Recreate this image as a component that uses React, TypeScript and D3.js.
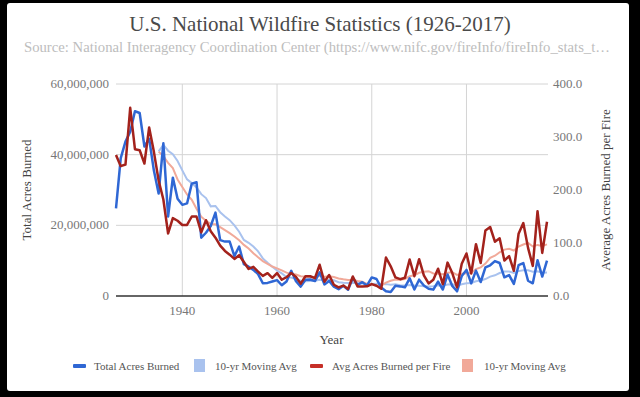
import React from 'react';
import * as d3 from 'd3';

// U.S. National Wildfire Statistics, one value per year starting 1926
const startYear = 1926;

// total acres burned, in millions
const totalAcres = [
  24.8, 39.0, 43.7, 46.5, 52.3, 51.8, 42.3, 44.5, 35.5, 29.0,
  43.2, 22.5, 33.5, 27.5, 25.8, 26.2, 31.8, 32.2, 16.5, 17.9,
  19.8, 23.6, 15.8, 15.4, 15.4, 11.3, 14.0, 9.0, 8.3, 7.4,
  6.2, 3.6, 3.7, 4.1, 4.48, 3.04, 4.08, 7.12, 4.20, 2.65,
  4.57, 4.66, 4.23, 6.69, 3.28, 4.28, 2.64, 1.92, 2.88, 1.79,
  5.11, 3.15, 3.91, 2.99, 5.26, 4.81, 2.38, 1.32, 1.15, 2.90,
  2.72, 2.45, 5.01, 1.83, 4.62, 2.95, 2.07, 1.80, 4.07, 1.84,
  6.07, 2.86, 1.33, 5.63, 7.39, 3.57, 7.18, 3.96, 8.10, 8.69,
  9.87, 9.33, 5.29, 5.92, 3.42, 8.71, 9.33, 4.32, 3.60, 10.13,
  5.51, 10.03,
];

// average acres burned per fire
const avgPerFire = [
  266, 245, 248, 355, 277, 275, 250, 318, 272, 218,
  182, 118, 147, 142, 134, 134, 150, 150, 120, 143,
  122, 110, 95, 85, 78, 70, 77, 64, 51, 55,
  46, 38, 43, 34, 43.3, 30.8, 35.4, 43.4, 36.1, 23.3,
  37.3, 37.3, 33.8, 59.0, 26.9, 39.5, 21.2, 16.2, 19.7, 13.3,
  36.8, 18.1, 17.9, 18.3, 22.4, 19.3, 13.6, 72.6, 56.0, 35.1,
  31.7, 34.3, 68.9, 37.3, 69.5, 39.0, 23.7, 30.6, 51.5, 22.4,
  63.0, 43.2, 16.4, 60.8, 80.2, 42.5, 97.8, 62.3, 123.7, 130.2,
  102.4, 108.8, 67.0, 75.2, 47.6, 117.5, 137.6, 90.8, 56.8, 160,
  81.3, 140.2,
];

const leftTicks = [0, 20, 40, 60];
const rightTicks = [0, 100, 200, 300, 400];
const yearTicks = [1940, 1960, 1980, 2000];

const legendLabels = ['Total Acres Burned', '10-yr Moving Avg', 'Avg Acres Burned per Fire', '10-yr Moving Avg'];

const blue = '#2f67d4';
const blueAvg = '#a9c2ee';
const red = '#a3221c';
const redAvg = '#f1a999';
const serif = "'Liberation Serif', 'Times New Roman', serif";

// trailing 10 year average, first point once a full window exists
function movingAvg(vals: number[], n: number) {
  const out: { year: number; v: number }[] = [];
  for (let i = n - 1; i < vals.length; i++) {
    out.push({ year: startYear + i, v: d3.mean(vals.slice(i - n + 1, i + 1)) as number });
  }
  return out;
}

export default function App() {
  const W = 640;
  const H = 397;
  const left = 116, right = 547, top = 84, bottom = 296;

  const years = totalAcres.map((_, i) => startYear + i);
  const x = d3.scaleLinear().domain([startYear, startYear + totalAcres.length - 1]).range([left, right]);
  const yL = d3.scaleLinear().domain([0, 60]).range([bottom, top]);
  const yR = d3.scaleLinear().domain([0, 400]).range([bottom, top]);

  const lineL = d3.line<{ year: number; v: number }>().x(d => x(d.year)).y(d => yL(d.v));
  const lineR = d3.line<{ year: number; v: number }>().x(d => x(d.year)).y(d => yR(d.v));

  const totalPts = totalAcres.map((v, i) => ({ year: years[i], v }));
  const avgPts = avgPerFire.map((v, i) => ({ year: years[i], v }));
  const totalMA = movingAvg(totalAcres, 10);
  const avgMA = movingAvg(avgPerFire, 10);

  const fmtL = (d: number) => d3.format(',')(d * 1e6);
  const fmtR = d3.format('.1f');

  // legend
  const legendY = 366;
  const legend = [
    { icon: 'line', color: blue, ix: 73, tx: 94 },
    { icon: 'box', color: blueAvg, ix: 194, tx: 215 },
    { icon: 'line', color: '#c62f28', ix: 310, tx: 332 },
    { icon: 'box', color: redAvg, ix: 462, tx: 484 },
  ];

  return (
    <svg width={W} height={H} style={{ position: 'absolute', left: 0, top: 0, background: '#000' }}>
      <rect x={7} y={3} width={622} height={388} rx={3} fill="#fff" />

      <text x={320} y={31} textAnchor="middle" fontFamily={serif} fontSize={21} fill="#4a4a4a">
        U.S. National Wildfire Statistics (1926-2017)
      </text>
      <text x={317} y={52} textAnchor="middle" fontFamily={serif} fontSize={14.7} fill="#bdbdbd">
        Source: National Interagency Coordination Center (https://www.nifc.gov/fireInfo/fireInfo_stats_t…
      </text>

      {/* grid */}
      {leftTicks.filter(t => t > 0).map(t => (
        <line key={'h' + t} x1={left} x2={right + 1} y1={yL(t)} y2={yL(t)} stroke="#d4d4d4" strokeWidth={1} />
      ))}
      {yearTicks.map(t => (
        <line key={'v' + t} x1={x(t)} x2={x(t)} y1={top} y2={bottom} stroke="#d4d4d4" strokeWidth={1} />
      ))}

      {/* left axis */}
      {leftTicks.map(t => (
        <text key={'l' + t} x={109} y={yL(t) + 4} textAnchor="end" fontFamily={serif} fontSize={13} fill="#777">
          {fmtL(t)}
        </text>
      ))}
      <text transform={`translate(31,${(top + bottom) / 2}) rotate(-90)`} textAnchor="middle"
        fontFamily={serif} fontSize={13} fill="#444">Total Acres Burned</text>

      {/* right axis */}
      {rightTicks.map(t => (
        <text key={'r' + t} x={553} y={yR(t) + 4} textAnchor="start" fontFamily={serif} fontSize={13} fill="#777">
          {fmtR(t)}
        </text>
      ))}
      <text transform={`translate(610,${(top + bottom) / 2}) rotate(-90)`} textAnchor="middle"
        fontFamily={serif} fontSize={13} fill="#444">Average Acres Burned per Fire</text>

      {/* x axis */}
      {yearTicks.map(t => (
        <text key={'x' + t} x={x(t)} y={315} textAnchor="middle" fontFamily={serif} fontSize={13} fill="#777">
          {t}
        </text>
      ))}
      <text x={(left + right) / 2} y={344} textAnchor="middle" fontFamily={serif} fontSize={13} fill="#444">Year</text>

      {/* series */}
      <path d={lineL(totalMA) || ''} fill="none" stroke={blueAvg} strokeWidth={2} />
      <path d={lineR(avgMA) || ''} fill="none" stroke={redAvg} strokeWidth={2} />
      <path d={lineL(totalPts) || ''} fill="none" stroke={blue} strokeWidth={2.5} strokeLinejoin="round" />
      <path d={lineR(avgPts) || ''} fill="none" stroke={red} strokeWidth={2.5} strokeLinejoin="round" />

      <line x1={left} x2={right + 1} y1={bottom} y2={bottom} stroke="#333" strokeWidth={1.5} />

      {/* legend */}
      {legend.map((l, i) => (
        <g key={'lg' + i}>
          {l.icon === 'line'
            ? <rect x={l.ix} y={legendY - 2} width={13} height={4} rx={1} fill={l.color} />
            : <rect x={l.ix} y={legendY - 7} width={11} height={13} fill={l.color} />}
          <text x={l.tx} y={legendY + 4} fontFamily={serif} fontSize={11} fill="#555">{legendLabels[i]}</text>
        </g>
      ))}
    </svg>
  );
}
